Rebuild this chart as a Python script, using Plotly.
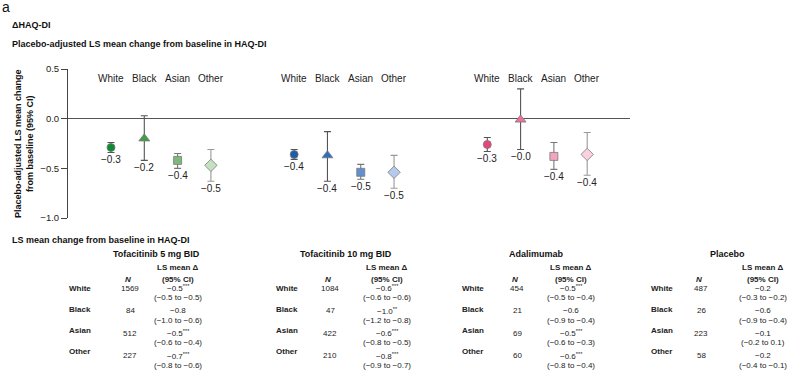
import plotly.graph_objects as go

# ---------------- data ----------------
races = ["White", "Black", "Asian", "Other"]
plot_groups = ["Tofacitinib 5 mg BID", "Tofacitinib 10 mg BID", "Adalimumab"]

# placebo-adjusted LS mean change (estimates), lower/upper 95% CI
tofa5_mean = [-0.29, -0.20, -0.42, -0.47]
tofa5_lo = [-0.34, -0.42, -0.50, -0.63]
tofa5_hi = [-0.24, 0.03, -0.35, -0.31]
tofa5_lbl = ["−0.3", "−0.2", "−0.4", "−0.5"]

tofa10_mean = [-0.36, -0.37, -0.54, -0.54]
tofa10_lo = [-0.41, -0.63, -0.61, -0.70]
tofa10_hi = [-0.31, -0.13, -0.46, -0.37]
tofa10_lbl = ["−0.4", "−0.4", "−0.5", "−0.5"]

ada_mean = [-0.26, -0.01, -0.38, -0.36]
ada_lo = [-0.33, -0.31, -0.51, -0.57]
ada_hi = [-0.19, 0.30, -0.24, -0.14]
ada_lbl = ["−0.3", "−0.0", "−0.4", "−0.4"]

ytick_vals = [0.5, 0.0, -0.5, -1.0]
ytick_text = ["0.5", "0.0", "−0.5", "−1.0"]

# table data
table_groups = ["Tofacitinib 5 mg BID", "Tofacitinib 10 mg BID", "Adalimumab", "Placebo"]
tofa5_n = [1569, 84, 512, 227]
tofa5_ls = [-0.5, -0.8, -0.5, -0.7]
tofa5_sig = ["***", "", "***", "***"]
tofa5_cil = [-0.5, -1.0, -0.6, -0.8]
tofa5_ciu = [-0.5, -0.6, -0.4, -0.6]

tofa10_n = [1084, 47, 422, 210]
tofa10_ls = [-0.6, -1.0, -0.6, -0.8]
tofa10_sig = ["***", "**", "***", "***"]
tofa10_cil = [-0.6, -1.2, -0.8, -0.9]
tofa10_ciu = [-0.6, -0.8, -0.5, -0.7]

ada_n = [454, 21, 69, 60]
ada_ls = [-0.5, -0.6, -0.5, -0.6]
ada_sig = ["***", "", "***", "***"]
ada_cil = [-0.5, -0.9, -0.6, -0.8]
ada_ciu = [-0.4, -0.4, -0.3, -0.4]

pbo_n = [487, 26, 223, 58]
pbo_ls = [-0.2, -0.6, -0.1, -0.2]
pbo_sig = ["", "", "", ""]
pbo_cil = [-0.3, -0.9, -0.2, -0.4]
pbo_ciu = [-0.2, -0.4, 0.1, -0.1]

# ---------------- styles ----------------
FONT = "Liberation Sans, Arial, Helvetica, sans-serif"
W, H = 787, 372
group_colors = [
    ["#0f8a32", "#3f9e4a", "#7cb97a", "#c6e1c0"],
    ["#1b5ea8", "#2d6fbf", "#6190d0", "#b6caee"],
    ["#e6457b", "#ee6f97", "#f4a3bd", "#fad1de"],
]
race_symbols = ["circle", "triangle-up", "square", "diamond"]
race_sizes = [8, 9.5, 8, 9.5]
err_colors = ["#555555", "#555555", "#777777", "#999999"]
group_offsets = [0.0, 5.5, 11.3]

def px(x):
    return x / W

def py(y):
    return 1 - y / H

def note(xp, yp, text, size, color="#222", xanchor="center", **kw):
    return dict(x=px(xp), y=py(yp), xref="paper", yref="paper", text=text, showarrow=False,
                xanchor=xanchor, yanchor="middle", borderpad=0,
                font=dict(size=size, color=color), **kw)

fig = go.Figure()

series = [
    (tofa5_mean, tofa5_lo, tofa5_hi, tofa5_lbl),
    (tofa10_mean, tofa10_lo, tofa10_hi, tofa10_lbl),
    (ada_mean, ada_lo, ada_hi, ada_lbl),
]

annotations = []
for g, (m, lo, hi, lbl) in enumerate(series):
    for r in range(4):
        xv = group_offsets[g] + r + 1
        fig.add_trace(go.Scatter(
            x=[xv], y=[m[r]], mode="markers",
            marker=dict(symbol=race_symbols[r], size=race_sizes[r], color=group_colors[g][r],
                        line=dict(color="#7a7a7a", width=0.8)),
            error_y=dict(type="data", symmetric=False, array=[hi[r] - m[r]], arrayminus=[m[r] - lo[r]],
                         color=err_colors[r], thickness=1.1, width=3.5),
            showlegend=False, cliponaxis=False, hoverinfo="skip",
        ))
        annotations.append(dict(x=xv, y=lo[r], xref="x", yref="y", text=lbl[r], showarrow=False,
                                xanchor="center", yanchor="top", yshift=-1, borderpad=0,
                                font=dict(size=10, color="#222")))
        annotations.append(dict(x=xv, y=0.40, xref="x", yref="y", text=races[r], showarrow=False,
                                xanchor="center", yanchor="middle", borderpad=0,
                                font=dict(size=10, color="#222")))
    annotations.append(dict(x=group_offsets[g] + 2.5, y=0.575, xref="x", yref="y",
                            text="<b>" + plot_groups[g] + "</b>", showarrow=False,
                            xanchor="center", yanchor="middle", borderpad=0,
                            font=dict(size=9, color="#111")))

# headings
annotations.append(note(1, 7, "a", 14, "#111", xanchor="left"))
annotations.append(note(11, 25, "<b>ΔHAQ-DI</b>", 9, "#111", xanchor="left"))
annotations.append(note(11, 44, "<b>Placebo-adjusted LS mean change from baseline in HAQ-DI</b>", 9, "#111",
                        xanchor="left"))
annotations.append(note(24, 144, "<b>Placebo-adjusted LS mean change<br>from baseline (95% CI)</b>", 9,
                        "#111", textangle=-90))
annotations.append(note(11, 240, "<b>LS mean change from baseline in HAQ-DI</b>", 9, "#111",
                        xanchor="left"))

# table
def fmt(v):
    s = f"{v:.1f}"
    return s.replace("-", "−")

tables = [
    (tofa5_n, tofa5_ls, tofa5_sig, tofa5_cil, tofa5_ciu),
    (tofa10_n, tofa10_ls, tofa10_sig, tofa10_cil, tofa10_ciu),
    (ada_n, ada_ls, ada_sig, ada_cil, ada_ciu),
    (pbo_n, pbo_ls, pbo_sig, pbo_cil, pbo_ciu),
]
title_cx = [156, 346, 536, 727]
label_x = [68, 275, 461, 650]
n_cx = [130, 330, 517, 701]
val_cx = [178, 387, 571, 763]
TS = 8
for t, (n, ls, sig, cil, ciu) in enumerate(tables):
    annotations.append(note(title_cx[t], 254, "<b>" + table_groups[t] + "</b>", 9, "#111"))
    annotations.append(note(val_cx[t], 267, "<b>LS mean Δ</b>", TS))
    annotations.append(note(val_cx[t], 279.5, "<b>(95% CI)</b>", TS))
    annotations.append(note(n_cx[t] - 2, 279.5, "<b><i>N</i></b>", TS))
    for r in range(4):
        ylab = 288 + r * 21.2
        yval = 288 + r * 22.5
        stars = f"<sup>{sig[r]}</sup>" if sig[r] else ""
        annotations.append(note(label_x[t], ylab, "<b>" + races[r] + "</b>", TS, xanchor="left"))
        annotations.append(note(n_cx[t], yval, str(n[r]), TS))
        annotations.append(note(val_cx[t], yval, fmt(ls[r]) + stars, TS))
        annotations.append(note(val_cx[t], yval + 9.5, f"({fmt(cil[r])} to {fmt(ciu[r])})", TS))

# axes geometry
X0_PX, X1_PX = 68, 630
Y_TOP_PX, Y_BOT_PX = 69, 218
unit_px = 33.3
x0 = 1 - (111 - X0_PX) / unit_px
x1 = x0 + (X1_PX - X0_PX) / unit_px

fig.update_layout(
    width=W, height=H, autosize=False,
    margin=dict(l=0, r=0, t=0, b=0, pad=0, autoexpand=False),
    paper_bgcolor="white", plot_bgcolor="white",
    font=dict(family=FONT, color="#222"),
    annotations=annotations,
    xaxis=dict(domain=[px(X0_PX), px(X1_PX)], range=[x0, x1], visible=False, fixedrange=True,
               automargin=False),
    yaxis=dict(domain=[py(Y_BOT_PX), py(Y_TOP_PX)], range=[-1.0, 0.5], automargin=False,
               tickvals=ytick_vals, ticktext=ytick_text, ticks="outside", ticklen=6,
               tickcolor="#444", tickwidth=1, showline=True, linecolor="#444", linewidth=1,
               showgrid=False, zeroline=True, zerolinecolor="#555", zerolinewidth=1.2,
               tickfont=dict(size=9.5, color="#222"), fixedrange=True),
)

fig.write_html("out.html", config={"displayModeBar": False},
               post_script="document.body.style.margin='0';document.body.style.overflow='hidden';")
